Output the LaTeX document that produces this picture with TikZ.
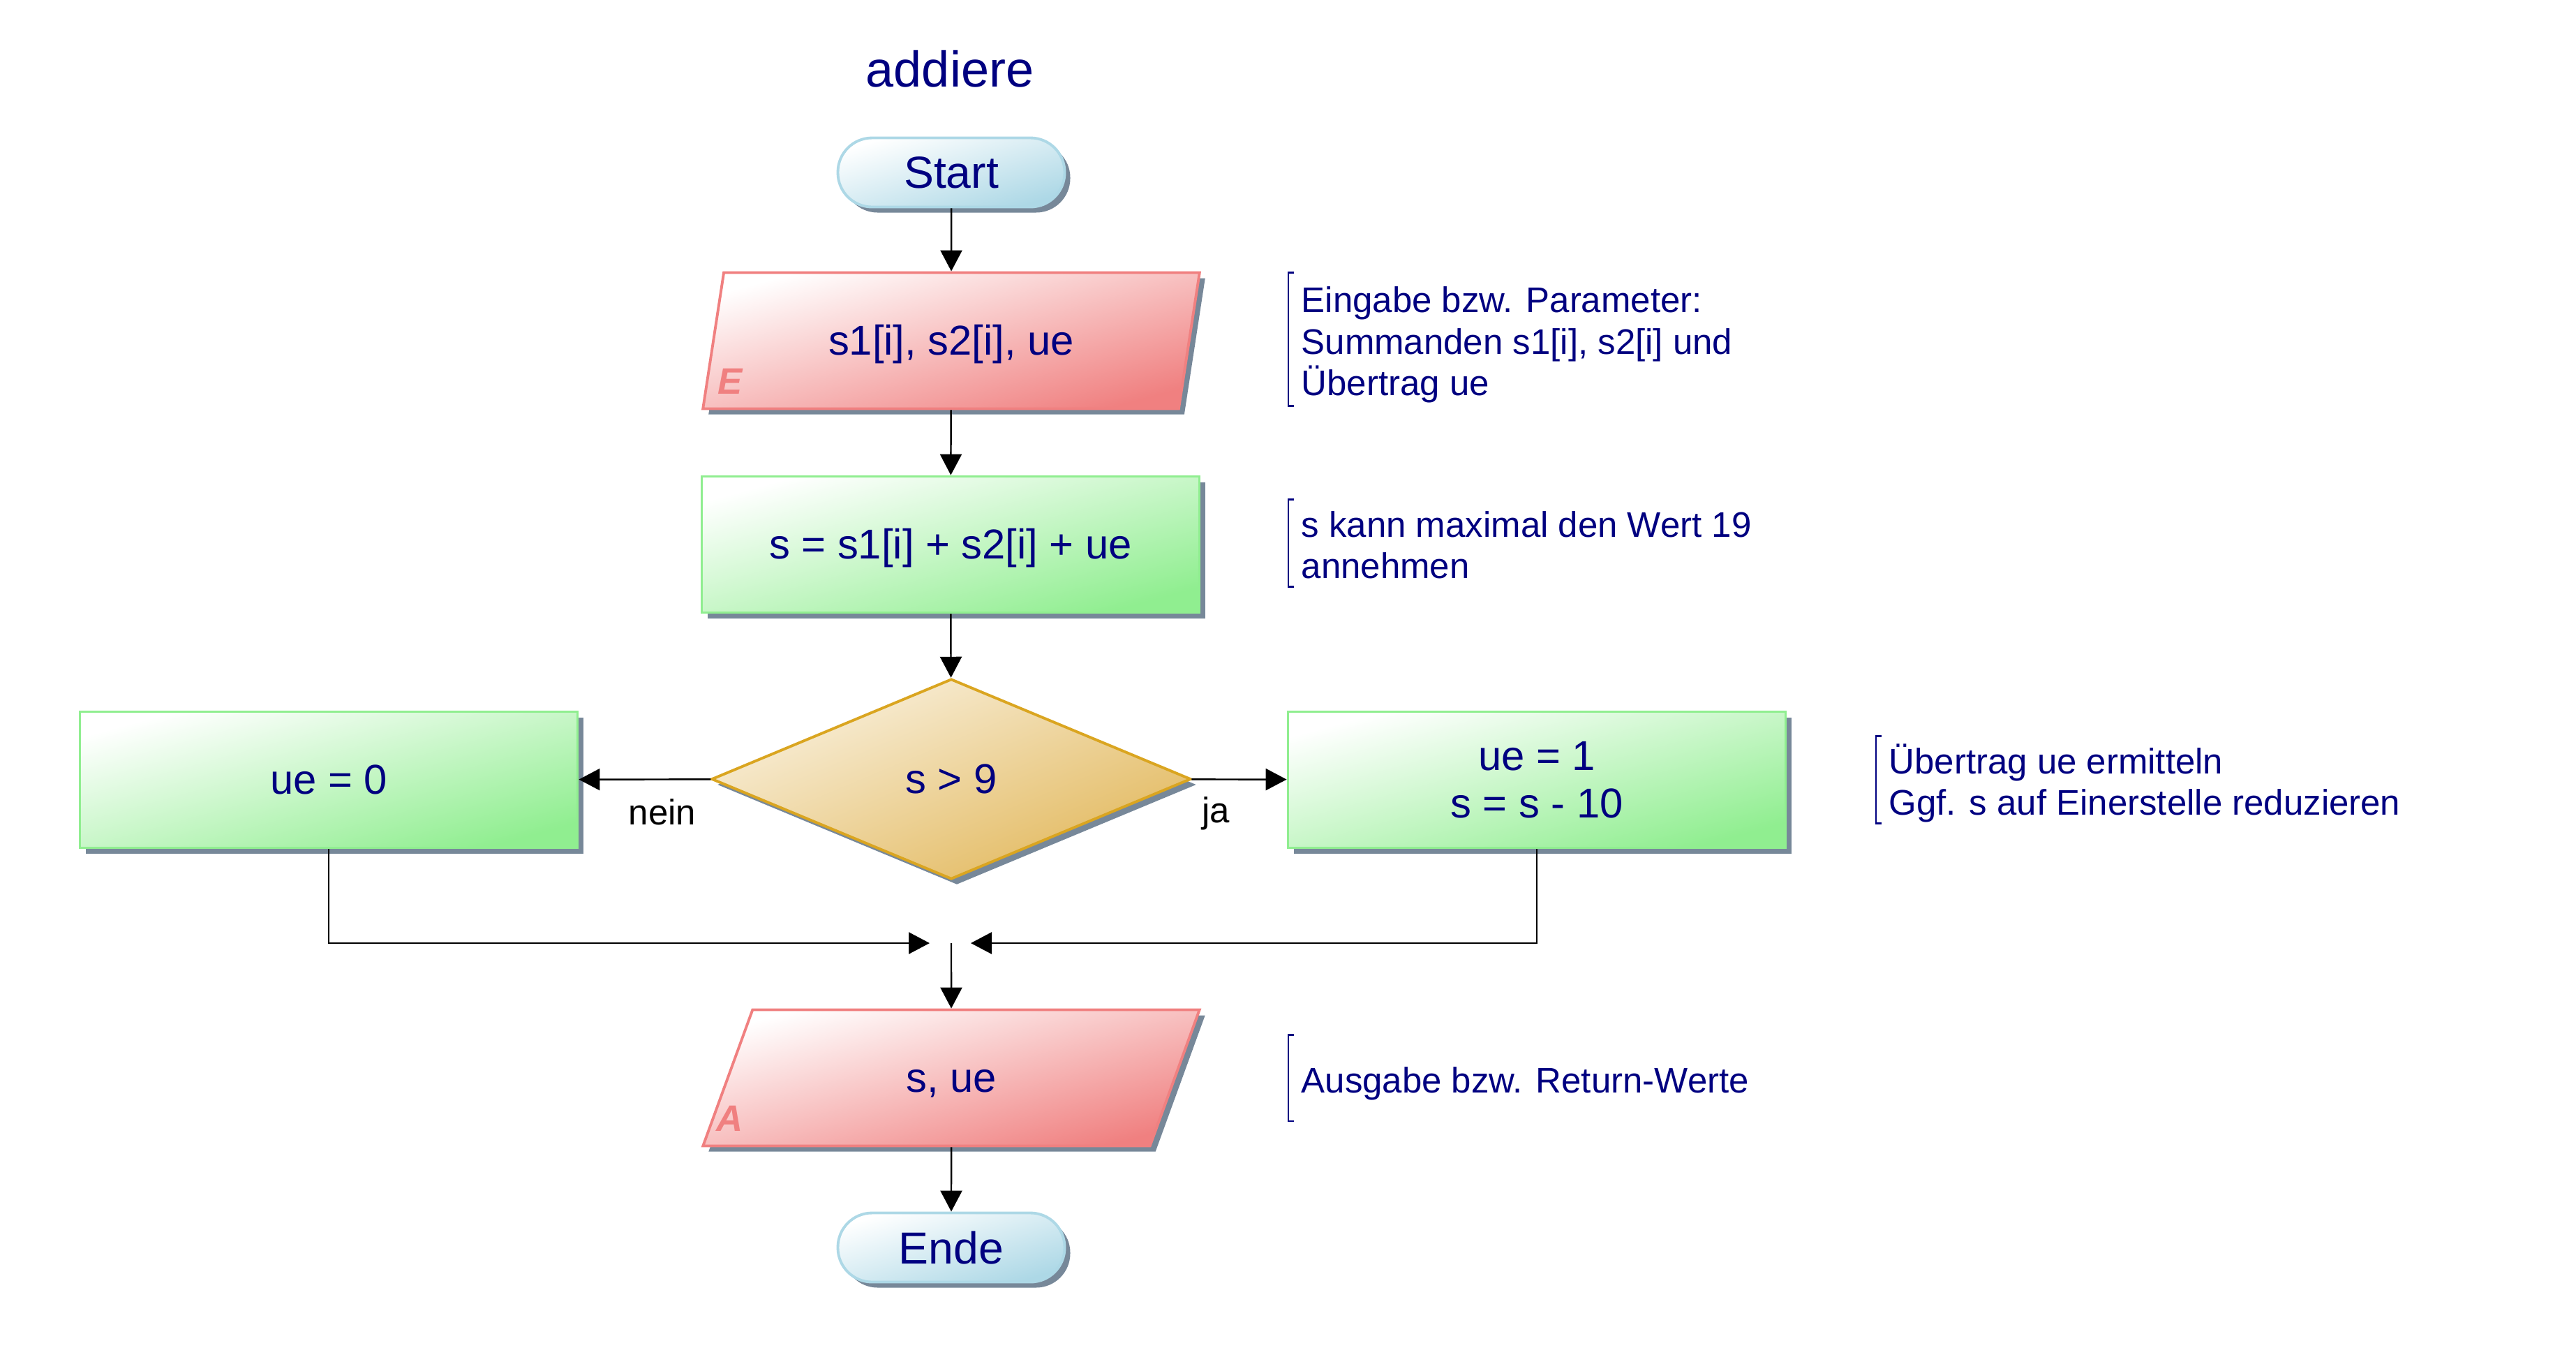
\documentclass[tikz,border=0pt]{standalone}
\usepackage{fontspec}
\setmainfont{Liberation Sans}
\usetikzlibrary{shapes.geometric,shadows,arrows.meta}
\definecolor{txtblue}{RGB}{0,0,128}
\definecolor{schatten}{RGB}{119,136,153}
\definecolor{hellblau}{RGB}{173,216,230}
\definecolor{hellrot}{RGB}{240,128,128}
\definecolor{hellgruen}{RGB}{144,238,144}
\definecolor{gold}{RGB}{218,165,32}
\definecolor{goldfill}{RGB}{226,184,92}
\newcommand{\erste}{\rule[-0.212em]{0pt}{1.25em}}
\newcommand{\zeile}{\rule[-0.212em]{0pt}{0.905em}}
\begin{document}
\begin{tikzpicture}[
  schattig/.style={drop shadow={shadow xshift=0.08cm,shadow yshift=-0.08cm,fill=schatten,opacity=1}},
  grenze/.style={draw=#1,line width=1.1pt,top color=white,bottom color=#1,text=txtblue},
  einzeilig/.style={text height=15.4pt,text depth=3.6pt},
  terminal/.style={grenze=hellblau,shading angle=16.9,schattig,rectangle,rounded corners=0.49cm,minimum width=3.25cm,minimum height=0.99cm,font=\fontsize{18.3}{21}\selectfont},
  io/.style={grenze=hellrot,shading angle=15.3,schattig,trapezium,trapezium left angle=76.4,trapezium right angle=103.6,trapezium stretches=true,minimum width=7.12cm,minimum height=1.95cm,inner sep=0pt,einzeilig,font=\fontsize{17}{19.4}\selectfont},
  aktion/.style={grenze=hellgruen,shading angle=15.3,schattig,rectangle,minimum width=7.13cm,minimum height=1.95cm,align=center,font=\fontsize{17}{19.4}\selectfont},
  frage/.style={draw=gold,line width=1.1pt,top color=white!80!goldfill,bottom color=goldfill,shading angle=22.7,schattig,diamond,minimum width=6.87cm,minimum height=2.87cm,inner sep=0pt,einzeilig,text=txtblue,font=\fontsize{17}{19.4}\selectfont},
  marke/.style={text=hellrot,font=\fontsize{15}{15}\selectfont\bfseries\itshape},
  notiz/.style={anchor=west,align=left,inner xsep=0.18cm,inner ysep=0pt,text=txtblue,font=\fontsize{14.5}{17}\selectfont},
  klammer/.style={draw=txtblue,line width=0.7pt},
  lbl/.style={font=\fontsize{14.5}{17}\selectfont},
  flow/.style={line width=0.7pt,-{Triangle[length=0.3cm,width=0.31cm]}}]
\useasboundingbox (0,0) rectangle (36.91,-19.30);

\node (titel) at (13.61,-0.99) [text=txtblue,font=\fontsize{20.5}{24}\selectfont] {addiere};
\node (start) at (13.63,-2.47) [terminal] {Start};
\node (ein) at (13.63,-4.88) [io] {s1[i], s2[i], ue};
\node (summe) at (13.62,-7.80) [aktion,einzeilig] {s = s1[i] + s2[i] + ue};
\node (test) at (13.63,-11.16) [frage] {s > 9};
\node (null) at (4.71,-11.17) [aktion,einzeilig] {ue = 0};
\node (eins) at (22.02,-11.17) [aktion] {ue = 1\\s = s - 10};
\node (aus) at (13.63,-15.44) [io] {s, ue};
\node (ende) at (13.63,-17.87) [terminal] {Ende};

\node (markeE) at (10.46,-5.46) [marke] {E};
\node (markeA) at (10.46,-16.02) [marke] {A};

\node (nein) at (9.49,-11.63) [lbl] {nein};
\node (ja) at (17.42,-11.65) [lbl] {ja};

\coordinate (mergeL) at (13.32,-13.51);
\coordinate (mergeR) at (13.91,-13.51);
\coordinate (merge) at (13.63,-13.51);

\draw[flow] (start) to (ein);
\draw[flow] (ein) to (summe);
\draw[flow] (summe) to (test);
\draw[flow] (test) to (null);
\draw[flow] (test) to (eins);
\draw[flow] (null.south) |- (mergeL);
\draw[flow] (eins.south) |- (mergeR);
\draw[flow] (merge) to (aus);
\draw[flow] (aus) to (ende);

% Kommentare
\node (k1) at (18.46,-4.86) [notiz,minimum height=1.90cm] {\erste Eingabe bzw. Parameter:\\\zeile Summanden s1[i], s2[i] und\\\zeile Übertrag ue};
\node (k2) at (18.46,-7.78) [notiz,minimum height=1.24cm] {\erste s kann maximal den Wert 19\\\zeile annehmen};
\node (k3) at (26.88,-11.17) [notiz,minimum height=1.20cm] {\erste Übertrag ue ermitteln\\\zeile Ggf. s auf Einerstelle reduzieren};
\node (k4) at (18.46,-15.44) [notiz,minimum height=1.22cm] {\erste Ausgabe bzw. Return-Werte};

\foreach \k in {k1,k2,k3,k4}
  \draw[klammer] ([xshift=0.08cm]\k.north west) -- (\k.north west) -- (\k.south west) -- ([xshift=0.08cm]\k.south west);
\end{tikzpicture}
\end{document}
